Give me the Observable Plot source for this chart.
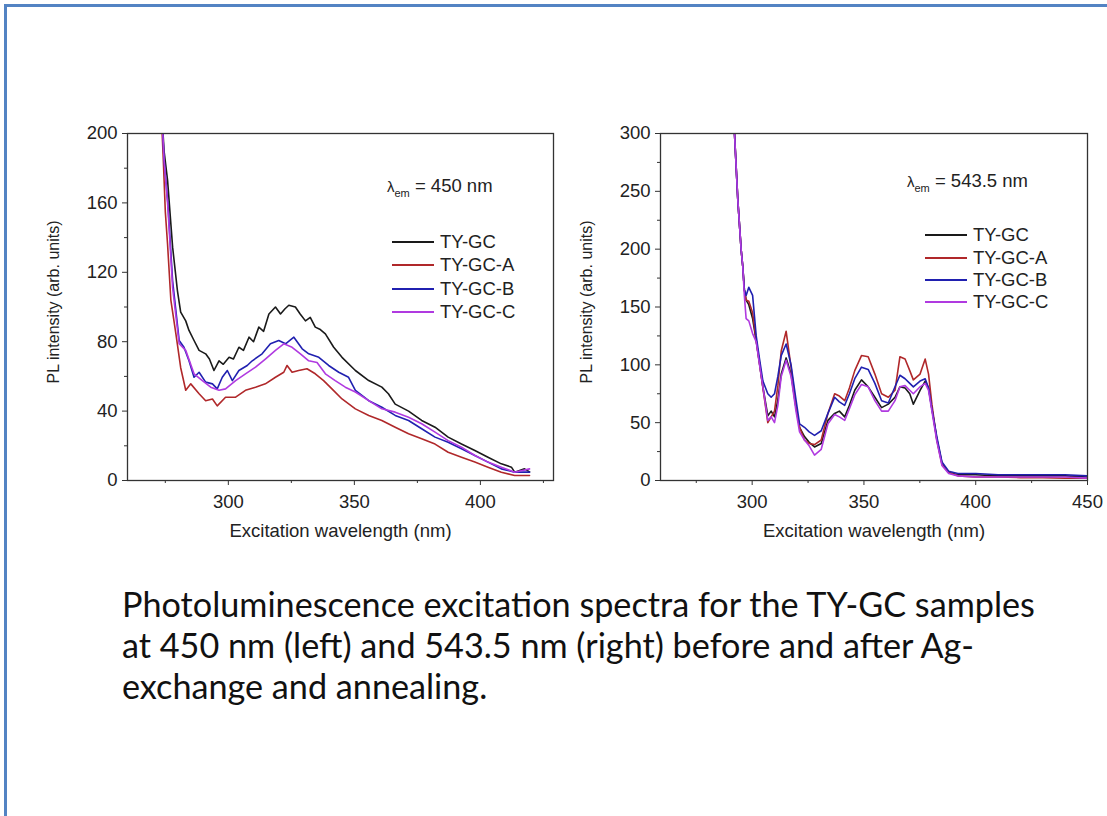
<!DOCTYPE html>
<html>
<head>
<meta charset="utf-8">
<script src="https://cdn.jsdelivr.net/npm/d3@7"></script>
<script src="https://cdn.jsdelivr.net/npm/@observablehq/plot@0.6"></script>
<style>
  html, body { margin: 0; padding: 0; background: #fff; }
  #page { position: relative; width: 1107px; height: 816px; overflow: hidden; background: #fff; font-family: "Liberation Sans", Arial, sans-serif; }
  #border { position: absolute; left: 4px; top: 4px; width: 1120px; height: 830px; border-top: 3px solid #5383c3; border-left: 3px solid #5383c3; }
  .chart { position: absolute; top: 100px; }
  .legend { position: absolute; font-size: 18.5px; color: #222; }
  .legend .row { display: flex; align-items: center; }
  .legend .sw { width: 42px; height: 2px; margin-right: 6px; }
  .lam { position: absolute; font-size: 18.5px; color: #222; white-space: nowrap; }
  .lam .l { font-size: 15px; }
  .lam sub { font-size: 11px; vertical-align: -5px; }
  #caption { position: absolute; left: 122px; top: 583px; font-family: Lato, "Open Sans", sans-serif; font-size: 34.2px; line-height: 41px; color: #111; white-space: nowrap; }
</style>
</head>
<body>
<div id="page">
  <div id="border"></div>
  <div id="left" class="chart" style="left:0px"></div>
  <div id="right" class="chart" style="left:560px"></div>
  <div id="caption"></div>
</div>
<script>
// ---------- DATA ----------
const seriesNames = ["TY-GC", "TY-GC-A", "TY-GC-B", "TY-GC-C"];
const seriesColors = ["#1a1a1a", "#b0282a", "#2020b0", "#b03ae0"];
const captionLines = [
  "Photoluminescence excitation spectra for the TY-GC samples",
  "at 450 nm (left) and 543.5 nm (right) before and after Ag-",
  "exchange and annealing."
];
const xLabel = "Excitation wavelength (nm)";
const yLabel = "PL intensity (arb. units)";
const leftEmission = "450 nm";
const rightEmission = "543.5 nm";

// Left panel (λem = 450 nm)
const leftTicksX = [300, 350, 400];
const leftMinorX = [275, 325, 375, 425];
const leftTicksY = [0, 40, 80, 120, 160, 200];
const leftMinorY = [20, 60, 100, 140, 180];

const leftWl_GC  = [273.5,274.5,275.9,277.9,279.8,281.1,283.1,284.4,286.4,288.4,291,292.5,294.3,296.3,298,300.3,302,304.2,306,308.2,310,312.1,314,316.1,318.7,320.7,322.5,324,326.6,328.5,330.6,332.5,334.5,336.5,338.5,341.8,345.1,350.4,355.7,360.9,363.5,366.2,371.5,376.7,382,387.2,392.5,397.8,403,408.3,412.3,413.6,417.5,419.5];
const leftPl_GC  = [215,190,173,134.5,109.5,97,92,86.5,80.7,75,73,70,63.4,69,67,71,70,76.8,75,82.6,80,88.4,86,96,100,96,99,101,100,96,92,94,88.4,87,84.5,76.8,71,63.4,57.6,53.8,50,44,40,34.6,30.7,25,21,17.3,13.4,9.6,7.7,4.8,6.7,5];

const leftWl_A   = [273.3,274.2,275,275.9,277.2,279.2,281.1,283.1,285.1,288.4,291,293.7,295.6,298.9,302.9,306.8,310.8,314.7,318.7,322,323.3,325.3,327.9,331.2,334.5,337.8,341.1,345.1,350.4,355.7,360.9,366.2,371.5,376.7,382,387.2,392.5,397.8,403,408.3,413.6,419.5];
const leftPl_A   = [215,185,155,136,104,84.5,65,52,55.7,50,46,47,43,48,48,52,53.8,55.7,59.5,62.4,66.3,62.4,63.4,64.4,61.5,57.6,52.8,47,41.3,37.5,34.6,30.7,26.9,24,21,16.3,13.4,10.6,7.7,4.8,2.9,2.9];

const leftWl_B   = [273.5,274.5,276,277.9,280.5,282.4,284.4,286.4,288.4,291,293.7,295.6,297.6,299.6,301.6,304.2,307.5,309.5,313.4,316.7,320,322.7,326,329.3,331.9,335.9,339.8,343.8,347.7,350.4,355.7,360.9,366.2,371.5,376.7,382,387.2,392.5,397.8,403,408.3,413.6,419.5];
const leftPl_B   = [215,185,160,115,80.7,76.8,69,59.5,62.4,56.7,55.7,52.8,59.5,63.4,57.6,63.4,66.3,69,73,78.8,80.7,78.8,82.6,75.9,73,71,66.3,62.4,59.5,52,46,42.2,37.5,34.6,29.8,25,22,18.3,14.4,10.6,6.7,4.8,4.8];

const leftWl_C   = [273.5,274.5,276,277.9,280.5,283.1,286.4,289.7,293,296.3,298.9,302.9,306.8,310.8,314.7,318.7,322,325.3,328.6,331.9,335.2,338.5,342.4,346.4,350.4,355.7,360.9,366.2,371.5,376.7,382,387.2,392.5,397.8,403,408.3,413.6,419.5];
const leftPl_C   = [215,185,158,111,78.8,75,61.5,57.6,53.8,52,52.8,57.6,61.5,65.3,70,75,78.8,76.8,73,69,68,61.5,57.6,53.8,51,46,41.3,39.4,36.5,32.7,27.9,23,19.2,14.4,10.6,7.7,4.8,6.7];

// Right panel (λem = 543.5 nm)
const rightTicksX = [300, 350, 400, 450];
const rightMinorX = [275, 325, 375, 425];
const rightTicksY = [0, 50, 100, 150, 200, 250, 300];
const rightMinorY = [25, 75, 125, 175, 225, 275];

const rightWl   = [291.5,292.1,293.6,295.1,295.8,296.5,297.3,298.5,300.2,301.8,303.3,304.8,307,308.5,310,311.5,313,315.2,317.4,319.6,321.2,323.4,325.5,327.9,330.9,333.9,336.9,339,341.4,343.5,345.9,348.9,351.9,354.9,357.9,360.9,363.9,366.1,368.4,370.5,372.1,375.1,377.4,378.9,380.4,382.6,384.9,387.9,392,400,410,420,430,440,450];
const rightPl_GC = [320,300,242,199,185,165,156,152,140,121,101,81,56,60,55,70,92,106,92,63,46,38,33,29,32,52,58,60,55,65,78,87,81,72,63,66,72,81,80,75,66,78,86,80,62,36,15,7,5,5,4,4,4,4,3];
const rightPl_A  = [320,300,242,199,185,165,156,155,145,121,101,80,50,55,60,82,112,129,98,64,46,35,32,31,35,58,75,73,69,80,95,108,107,92,75,72,78,107,105,95,87,92,105,92,66,35,14,7,4,3,3,2.5,2.5,2,2];
const rightPl_B  = [320,300,242,199,185,165,160,167,160,125,105,86,75,72,75,90,108,118,100,70,49,46,42,39,43,58,72,68,65,75,88,98,96,84,69,67,81,91,88,84,81,86,88,80,62,38,16,8,6,6,5,5,5,5,4];
const rightPl_C  = [320,300,242,199,185,160,140,138,127,120,100,81,52,55,50,65,90,104,90,60,42,35,30,22,27,49,57,55,52,62,74,83,81,69,60,60,69,81,82,78,75,81,84,78,60,34,13,6,4,3,3,3,3,3,2];

// ---------- BUILD ----------
function toRows(name, xs, ys) { return xs.map((x, i) => ({series: name, x, y: ys[i]})); }

const leftRows = [
  ...toRows(seriesNames[0], leftWl_GC, leftPl_GC),
  ...toRows(seriesNames[1], leftWl_A, leftPl_A),
  ...toRows(seriesNames[2], leftWl_B, leftPl_B),
  ...toRows(seriesNames[3], leftWl_C, leftPl_C)
];
const rightRows = [
  ...toRows(seriesNames[0], rightWl, rightPl_GC),
  ...toRows(seriesNames[1], rightWl, rightPl_A),
  ...toRows(seriesNames[2], rightWl, rightPl_B),
  ...toRows(seriesNames[3], rightWl, rightPl_C)
];

function panel(rows, xDomain, yDomain, ticksX, minorX, ticksY, minorY, marginLeft, width) {
  return Plot.plot({
    width, height: 460,
    marginLeft, marginRight: 20, marginTop: 33, marginBottom: 80,
    style: {fontFamily: "'Liberation Sans', Arial, sans-serif", fontSize: "18px", color: "#222", background: "transparent", overflow: "visible"},
    x: {domain: xDomain},
    y: {domain: yDomain},
    color: {domain: seriesNames, range: seriesColors},
    marks: [
      Plot.line(rows, {x: "x", y: "y", z: "series", stroke: "series", strokeWidth: 1.6, clip: true}),
      Plot.frame({stroke: "#333", strokeWidth: 1.3}),
      Plot.axisX(minorX, {tickSize: 3, tickFormat: () => "", label: null, stroke: "#333"}),
      Plot.axisX(ticksX, {tickSize: 5, tickPadding: 9, fontSize: 18.5, label: xLabel, labelAnchor: "center", labelOffset: 56, labelArrow: "none", stroke: "#333"}),
      Plot.axisY(minorY, {tickSize: 3, tickFormat: () => "", label: null, stroke: "#333"}),
      Plot.axisY(ticksY, {tickSize: 5, tickPadding: 5, fontSize: 18.5, label: null, stroke: "#333"}),
      Plot.text([yLabel], {frameAnchor: "left", text: d => d, rotate: -90, textAnchor: "middle", dx: -74, dy: -5, fontSize: 16, fill: "#222"})
    ]
  });
}

document.getElementById("left").appendChild(
  panel(leftRows, [260, 429], [0, 200], leftTicksX, leftMinorX, leftTicksY, leftMinorY, 127, 573)
);
document.getElementById("right").appendChild(
  panel(rightRows, [259, 450], [0, 300], rightTicksX, rightMinorX, rightTicksY, rightMinorY, 100, 547)
);

// legends & annotations
function addLegend(left, top, rowH) {
  const div = document.createElement("div");
  div.className = "legend";
  div.style.left = left + "px";
  div.style.top = top + "px";
  seriesNames.forEach((n, i) => {
    const row = document.createElement("div");
    row.className = "row";
    row.style.height = rowH + "px";
    const sw = document.createElement("div");
    sw.className = "sw";
    sw.style.background = seriesColors[i];
    const t = document.createElement("span");
    t.textContent = n;
    row.appendChild(sw); row.appendChild(t);
    div.appendChild(row);
  });
  document.getElementById("page").appendChild(div);
}
function addLambda(left, top, value) {
  const div = document.createElement("div");
  div.className = "lam";
  div.style.left = left + "px";
  div.style.top = top + "px";
  div.innerHTML = '<span class="l">λ</span><sub>em</sub> = ' + value;
  document.getElementById("page").appendChild(div);
}
addLambda(387, 175, leftEmission);
addLegend(392, 230.5, 23.3);
addLambda(907, 170, rightEmission);
addLegend(925, 224, 22.4);

const cap = document.getElementById("caption");
cap.innerHTML = captionLines.map(l => "<div>" + l + "</div>").join("");
</script>
</body>
</html>
